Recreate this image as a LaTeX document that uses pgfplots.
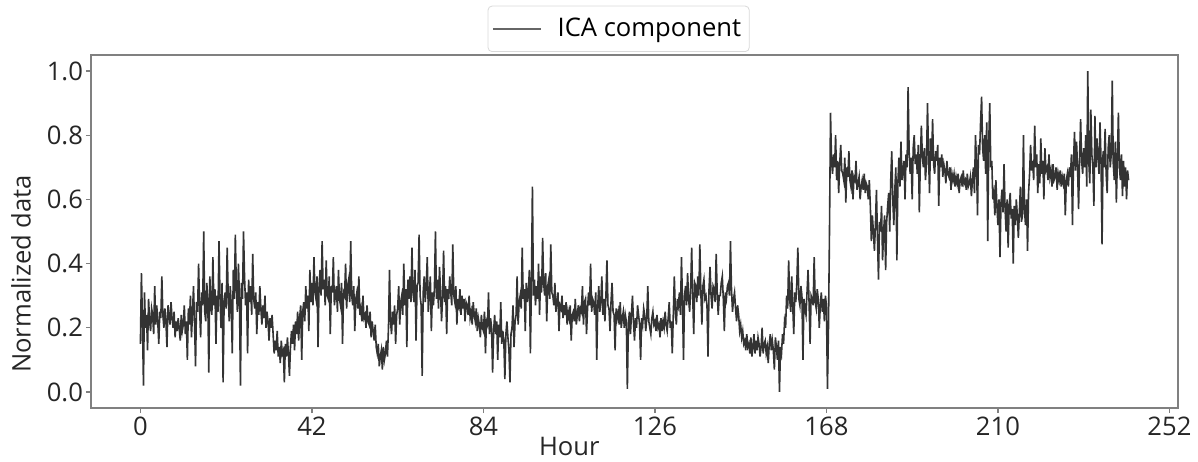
\documentclass[border=0pt]{standalone}
\usepackage{pgfplots}
\usepackage{pgfplotstable}
\pgfplotsset{compat=1.18}
\usepackage{fontspec}
\setmainfont{Open Sans}
\pgfplotstableread[row sep=\\]{
y\\
0.15\\ 0.37\\ 0.22\\ 0.02\\ 0.31\\ 0.20\\ 0.24\\ 0.13\\ 0.29\\ 0.22\\ 0.19\\ 0.26\\
0.24\\ 0.18\\ 0.33\\ 0.21\\ 0.27\\ 0.22\\ 0.15\\ 0.25\\ 0.23\\ 0.36\\ 0.24\\ 0.20\\
0.26\\ 0.22\\ 0.14\\ 0.27\\ 0.24\\ 0.21\\ 0.28\\ 0.23\\ 0.20\\ 0.25\\ 0.17\\ 0.22\\
0.19\\ 0.23\\ 0.20\\ 0.16\\ 0.24\\ 0.19\\ 0.21\\ 0.27\\ 0.18\\ 0.22\\ 0.10\\ 0.26\\
0.21\\ 0.30\\ 0.17\\ 0.24\\ 0.33\\ 0.22\\ 0.08\\ 0.28\\ 0.25\\ 0.40\\ 0.26\\ 0.17\\
0.31\\ 0.27\\ 0.50\\ 0.25\\ 0.22\\ 0.34\\ 0.29\\ 0.06\\ 0.36\\ 0.28\\ 0.24\\ 0.42\\
0.27\\ 0.32\\ 0.15\\ 0.30\\ 0.25\\ 0.47\\ 0.29\\ 0.20\\ 0.34\\ 0.03\\ 0.28\\ 0.31\\
0.26\\ 0.45\\ 0.30\\ 0.22\\ 0.33\\ 0.27\\ 0.12\\ 0.38\\ 0.29\\ 0.49\\ 0.32\\ 0.25\\
0.40\\ 0.30\\ 0.02\\ 0.34\\ 0.29\\ 0.50\\ 0.36\\ 0.27\\ 0.31\\ 0.12\\ 0.35\\ 0.28\\
0.33\\ 0.24\\ 0.43\\ 0.29\\ 0.26\\ 0.31\\ 0.18\\ 0.28\\ 0.24\\ 0.33\\ 0.26\\ 0.21\\
0.27\\ 0.23\\ 0.30\\ 0.20\\ 0.25\\ 0.22\\ 0.16\\ 0.23\\ 0.20\\ 0.24\\ 0.18\\ 0.12\\
0.16\\ 0.13\\ 0.19\\ 0.11\\ 0.14\\ 0.09\\ 0.16\\ 0.12\\ 0.13\\ 0.03\\ 0.15\\ 0.11\\
0.17\\ 0.12\\ 0.05\\ 0.14\\ 0.19\\ 0.15\\ 0.21\\ 0.13\\ 0.22\\ 0.18\\ 0.25\\ 0.16\\
0.23\\ 0.27\\ 0.10\\ 0.25\\ 0.28\\ 0.22\\ 0.33\\ 0.26\\ 0.30\\ 0.19\\ 0.38\\ 0.28\\
0.34\\ 0.27\\ 0.42\\ 0.31\\ 0.29\\ 0.36\\ 0.14\\ 0.33\\ 0.38\\ 0.30\\ 0.47\\ 0.32\\
0.35\\ 0.27\\ 0.41\\ 0.30\\ 0.29\\ 0.36\\ 0.18\\ 0.33\\ 0.31\\ 0.42\\ 0.27\\ 0.30\\
0.33\\ 0.25\\ 0.38\\ 0.29\\ 0.27\\ 0.34\\ 0.15\\ 0.31\\ 0.30\\ 0.40\\ 0.26\\ 0.33\\
0.35\\ 0.28\\ 0.47\\ 0.30\\ 0.27\\ 0.33\\ 0.19\\ 0.29\\ 0.31\\ 0.26\\ 0.36\\ 0.24\\
0.26\\ 0.22\\ 0.30\\ 0.23\\ 0.24\\ 0.20\\ 0.27\\ 0.22\\ 0.21\\ 0.25\\ 0.17\\ 0.22\\
0.19\\ 0.16\\ 0.21\\ 0.14\\ 0.12\\ 0.15\\ 0.08\\ 0.11\\ 0.13\\ 0.07\\ 0.14\\ 0.10\\
0.12\\ 0.16\\ 0.11\\ 0.20\\ 0.38\\ 0.22\\ 0.18\\ 0.25\\ 0.21\\ 0.27\\ 0.15\\ 0.24\\
0.26\\ 0.33\\ 0.21\\ 0.28\\ 0.30\\ 0.24\\ 0.40\\ 0.27\\ 0.32\\ 0.14\\ 0.35\\ 0.29\\
0.36\\ 0.28\\ 0.45\\ 0.31\\ 0.28\\ 0.38\\ 0.16\\ 0.33\\ 0.34\\ 0.49\\ 0.30\\ 0.27\\
0.05\\ 0.31\\ 0.36\\ 0.28\\ 0.33\\ 0.42\\ 0.25\\ 0.30\\ 0.36\\ 0.19\\ 0.31\\ 0.27\\
0.32\\ 0.50\\ 0.29\\ 0.35\\ 0.26\\ 0.39\\ 0.31\\ 0.22\\ 0.30\\ 0.44\\ 0.28\\ 0.33\\
0.18\\ 0.32\\ 0.29\\ 0.36\\ 0.31\\ 0.27\\ 0.46\\ 0.30\\ 0.28\\ 0.33\\ 0.21\\ 0.29\\
0.27\\ 0.32\\ 0.24\\ 0.30\\ 0.26\\ 0.29\\ 0.22\\ 0.28\\ 0.27\\ 0.24\\ 0.30\\ 0.23\\
0.25\\ 0.21\\ 0.28\\ 0.24\\ 0.22\\ 0.26\\ 0.19\\ 0.23\\ 0.21\\ 0.17\\ 0.24\\ 0.20\\
0.19\\ 0.25\\ 0.12\\ 0.22\\ 0.21\\ 0.31\\ 0.18\\ 0.23\\ 0.20\\ 0.06\\ 0.19\\ 0.24\\
0.18\\ 0.22\\ 0.10\\ 0.21\\ 0.17\\ 0.28\\ 0.15\\ 0.19\\ 0.16\\ 0.04\\ 0.18\\ 0.22\\
0.17\\ 0.13\\ 0.03\\ 0.18\\ 0.20\\ 0.27\\ 0.14\\ 0.22\\ 0.24\\ 0.36\\ 0.21\\ 0.28\\
0.30\\ 0.26\\ 0.45\\ 0.29\\ 0.32\\ 0.19\\ 0.34\\ 0.28\\ 0.31\\ 0.38\\ 0.12\\ 0.33\\
0.64\\ 0.30\\ 0.35\\ 0.27\\ 0.33\\ 0.29\\ 0.40\\ 0.24\\ 0.36\\ 0.31\\ 0.48\\ 0.34\\
0.30\\ 0.37\\ 0.22\\ 0.33\\ 0.35\\ 0.29\\ 0.46\\ 0.31\\ 0.30\\ 0.27\\ 0.34\\ 0.25\\
0.28\\ 0.31\\ 0.19\\ 0.27\\ 0.26\\ 0.30\\ 0.23\\ 0.27\\ 0.24\\ 0.28\\ 0.21\\ 0.25\\
0.23\\ 0.27\\ 0.16\\ 0.24\\ 0.25\\ 0.22\\ 0.29\\ 0.21\\ 0.24\\ 0.27\\ 0.22\\ 0.26\\
0.25\\ 0.33\\ 0.21\\ 0.28\\ 0.29\\ 0.18\\ 0.26\\ 0.31\\ 0.27\\ 0.40\\ 0.25\\ 0.29\\
0.28\\ 0.24\\ 0.31\\ 0.10\\ 0.27\\ 0.33\\ 0.25\\ 0.28\\ 0.36\\ 0.24\\ 0.29\\ 0.22\\
0.30\\ 0.41\\ 0.27\\ 0.26\\ 0.19\\ 0.28\\ 0.34\\ 0.25\\ 0.24\\ 0.13\\ 0.26\\ 0.23\\
0.25\\ 0.21\\ 0.28\\ 0.20\\ 0.23\\ 0.25\\ 0.20\\ 0.24\\ 0.22\\ 0.01\\ 0.21\\ 0.25\\
0.18\\ 0.24\\ 0.30\\ 0.22\\ 0.16\\ 0.23\\ 0.20\\ 0.27\\ 0.24\\ 0.21\\ 0.10\\ 0.23\\
0.21\\ 0.26\\ 0.24\\ 0.19\\ 0.23\\ 0.33\\ 0.22\\ 0.20\\ 0.18\\ 0.23\\ 0.25\\ 0.21\\
0.22\\ 0.19\\ 0.24\\ 0.20\\ 0.21\\ 0.17\\ 0.23\\ 0.19\\ 0.22\\ 0.20\\ 0.25\\ 0.21\\
0.19\\ 0.23\\ 0.28\\ 0.20\\ 0.22\\ 0.12\\ 0.24\\ 0.36\\ 0.25\\ 0.21\\ 0.29\\ 0.27\\
0.31\\ 0.24\\ 0.42\\ 0.28\\ 0.10\\ 0.30\\ 0.33\\ 0.27\\ 0.37\\ 0.29\\ 0.25\\ 0.32\\
0.45\\ 0.30\\ 0.18\\ 0.34\\ 0.33\\ 0.28\\ 0.36\\ 0.30\\ 0.46\\ 0.31\\ 0.21\\ 0.33\\
0.35\\ 0.29\\ 0.30\\ 0.27\\ 0.11\\ 0.32\\ 0.39\\ 0.30\\ 0.26\\ 0.33\\ 0.32\\ 0.28\\
0.43\\ 0.31\\ 0.24\\ 0.30\\ 0.30\\ 0.34\\ 0.36\\ 0.29\\ 0.19\\ 0.31\\ 0.29\\ 0.33\\
0.34\\ 0.30\\ 0.47\\ 0.32\\ 0.25\\ 0.29\\ 0.31\\ 0.26\\ 0.22\\ 0.27\\ 0.24\\ 0.19\\
0.21\\ 0.17\\ 0.19\\ 0.15\\ 0.16\\ 0.13\\ 0.18\\ 0.14\\ 0.15\\ 0.12\\ 0.17\\ 0.11\\
0.14\\ 0.18\\ 0.12\\ 0.16\\ 0.13\\ 0.17\\ 0.15\\ 0.11\\ 0.14\\ 0.20\\ 0.12\\ 0.15\\
0.16\\ 0.12\\ 0.14\\ 0.09\\ 0.15\\ 0.18\\ 0.13\\ 0.16\\ 0.13\\ 0.07\\ 0.17\\ 0.14\\
0.10\\ 0.16\\ 0.00\\ 0.14\\ 0.12\\ 0.18\\ 0.15\\ 0.22\\ 0.20\\ 0.30\\ 0.26\\ 0.41\\
0.29\\ 0.25\\ 0.36\\ 0.27\\ 0.18\\ 0.31\\ 0.28\\ 0.34\\ 0.45\\ 0.29\\ 0.27\\ 0.33\\
0.30\\ 0.10\\ 0.29\\ 0.26\\ 0.24\\ 0.31\\ 0.38\\ 0.28\\ 0.15\\ 0.30\\ 0.29\\ 0.27\\
0.42\\ 0.28\\ 0.26\\ 0.32\\ 0.29\\ 0.20\\ 0.27\\ 0.31\\ 0.25\\ 0.29\\ 0.22\\ 0.30\\
0.27\\ 0.01\\ 0.20\\ 0.50\\ 0.87\\ 0.72\\ 0.68\\ 0.74\\ 0.70\\ 0.80\\ 0.66\\ 0.72\\
0.62\\ 0.71\\ 0.77\\ 0.69\\ 0.68\\ 0.66\\ 0.73\\ 0.59\\ 0.70\\ 0.67\\ 0.75\\ 0.66\\
0.64\\ 0.69\\ 0.60\\ 0.67\\ 0.66\\ 0.72\\ 0.63\\ 0.65\\ 0.67\\ 0.60\\ 0.64\\ 0.66\\
0.63\\ 0.68\\ 0.62\\ 0.65\\ 0.64\\ 0.60\\ 0.66\\ 0.58\\ 0.47\\ 0.55\\ 0.50\\ 0.44\\
0.52\\ 0.63\\ 0.48\\ 0.35\\ 0.53\\ 0.50\\ 0.58\\ 0.41\\ 0.50\\ 0.55\\ 0.38\\ 0.53\\
0.58\\ 0.62\\ 0.50\\ 0.66\\ 0.75\\ 0.60\\ 0.52\\ 0.63\\ 0.70\\ 0.41\\ 0.65\\ 0.73\\
0.64\\ 0.78\\ 0.66\\ 0.69\\ 0.72\\ 0.60\\ 0.74\\ 0.70\\ 0.95\\ 0.75\\ 0.68\\ 0.73\\
0.60\\ 0.76\\ 0.80\\ 0.71\\ 0.74\\ 0.68\\ 0.77\\ 0.56\\ 0.72\\ 0.83\\ 0.73\\ 0.70\\
0.76\\ 0.66\\ 0.71\\ 0.90\\ 0.74\\ 0.62\\ 0.79\\ 0.72\\ 0.85\\ 0.71\\ 0.68\\ 0.75\\
0.72\\ 0.77\\ 0.58\\ 0.73\\ 0.70\\ 0.74\\ 0.67\\ 0.71\\ 0.69\\ 0.65\\ 0.72\\ 0.68\\
0.67\\ 0.70\\ 0.63\\ 0.68\\ 0.66\\ 0.68\\ 0.64\\ 0.67\\ 0.65\\ 0.68\\ 0.62\\ 0.66\\
0.67\\ 0.64\\ 0.69\\ 0.65\\ 0.66\\ 0.63\\ 0.68\\ 0.64\\ 0.65\\ 0.67\\ 0.61\\ 0.66\\
0.70\\ 0.62\\ 0.80\\ 0.72\\ 0.55\\ 0.77\\ 0.74\\ 0.84\\ 0.92\\ 0.76\\ 0.72\\ 0.80\\
0.68\\ 0.84\\ 0.47\\ 0.78\\ 0.90\\ 0.70\\ 0.72\\ 0.60\\ 0.62\\ 0.55\\ 0.66\\ 0.58\\
0.52\\ 0.60\\ 0.42\\ 0.59\\ 0.63\\ 0.56\\ 0.71\\ 0.57\\ 0.50\\ 0.60\\ 0.45\\ 0.58\\
0.62\\ 0.54\\ 0.57\\ 0.40\\ 0.58\\ 0.52\\ 0.60\\ 0.55\\ 0.48\\ 0.56\\ 0.64\\ 0.53\\
0.55\\ 0.80\\ 0.57\\ 0.52\\ 0.60\\ 0.44\\ 0.62\\ 0.68\\ 0.77\\ 0.69\\ 0.72\\ 0.66\\
0.83\\ 0.70\\ 0.74\\ 0.62\\ 0.71\\ 0.65\\ 0.79\\ 0.68\\ 0.72\\ 0.60\\ 0.76\\ 0.69\\
0.70\\ 0.66\\ 0.74\\ 0.67\\ 0.69\\ 0.64\\ 0.71\\ 0.66\\ 0.67\\ 0.70\\ 0.63\\ 0.68\\
0.66\\ 0.69\\ 0.64\\ 0.67\\ 0.65\\ 0.68\\ 0.55\\ 0.66\\ 0.68\\ 0.64\\ 0.70\\ 0.67\\
0.74\\ 0.52\\ 0.71\\ 0.81\\ 0.69\\ 0.78\\ 0.70\\ 0.57\\ 0.73\\ 0.85\\ 0.72\\ 0.68\\
0.76\\ 0.70\\ 0.80\\ 0.64\\ 1.00\\ 0.72\\ 0.65\\ 0.88\\ 0.74\\ 0.70\\ 0.58\\ 0.86\\
0.70\\ 0.79\\ 0.73\\ 0.68\\ 0.84\\ 0.72\\ 0.46\\ 0.75\\ 0.70\\ 0.82\\ 0.68\\ 0.62\\
0.76\\ 0.80\\ 0.70\\ 0.74\\ 0.97\\ 0.71\\ 0.66\\ 0.78\\ 0.59\\ 0.72\\ 0.87\\ 0.70\\
0.66\\ 0.74\\ 0.61\\ 0.72\\ 0.64\\ 0.70\\ 0.60\\ 0.69\\ 0.66\\
}\icadata
\begin{document}
\begin{tikzpicture}
\begin{axis}[
  scale only axis, width=543.5pt, height=176.5pt,
  xmin=-12.1, xmax=254.1, ymin=-0.05, ymax=1.05,
  xtick={0,42,84,126,168,210,252},
  ytick={0,0.2,0.4,0.6,0.8,1.0},
  /pgf/number format/assume math mode=true,
  tick label style={font=\fontsize{12.8}{15}\selectfont, color=black!85},
  xticklabel style={yshift=1.5pt},
  yticklabel style={/pgf/number format/fixed, /pgf/number format/fixed zerofill, /pgf/number format/precision=1, xshift=2pt},
  axis line style={black!50, line width=0.6pt},
  tick style={black!50, line width=0.6pt},
  tick align=outside, major tick length=2.5pt, tick pos=left,
  xlabel={Hour}, ylabel={Normalized data},
  label style={font=\fontsize{12.8}{15}\selectfont, color=black!85},
  xlabel style={at={(axis description cs:0.44,0)}, anchor=north, yshift=-11pt},
  ylabel style={at={([shift={(-43.5pt,0pt)}]axis description cs:0,0.38)}, anchor=north},
  legend style={at={(0.4854,1)}, anchor=south, yshift=1.5pt, draw=black!15,
    rounded corners=2pt, font=\fontsize{12.8}{15}\selectfont, inner xsep=2pt, inner ysep=4pt,
    /tikz/every odd column/.append style={column sep=6pt}},
  legend image code/.code={\draw[#1, opacity=0.6] (0pt,0pt) -- (24pt,0pt);},
]
\coordinate (bl) at (rel axis cs:0,0);
\coordinate (tr) at (rel axis cs:1,1);
\addplot[black, opacity=0.8, line width=0.8pt] table[x expr=\coordindex*0.25, y=y] {\icadata};
\addlegendentry{ICA component}
\end{axis}
\pgfresetboundingbox
\path ([shift={(-45.5pt,-26.5pt)}]bl) rectangle ([shift={(10pt,27.5pt)}]tr);
\end{tikzpicture}
\end{document}
